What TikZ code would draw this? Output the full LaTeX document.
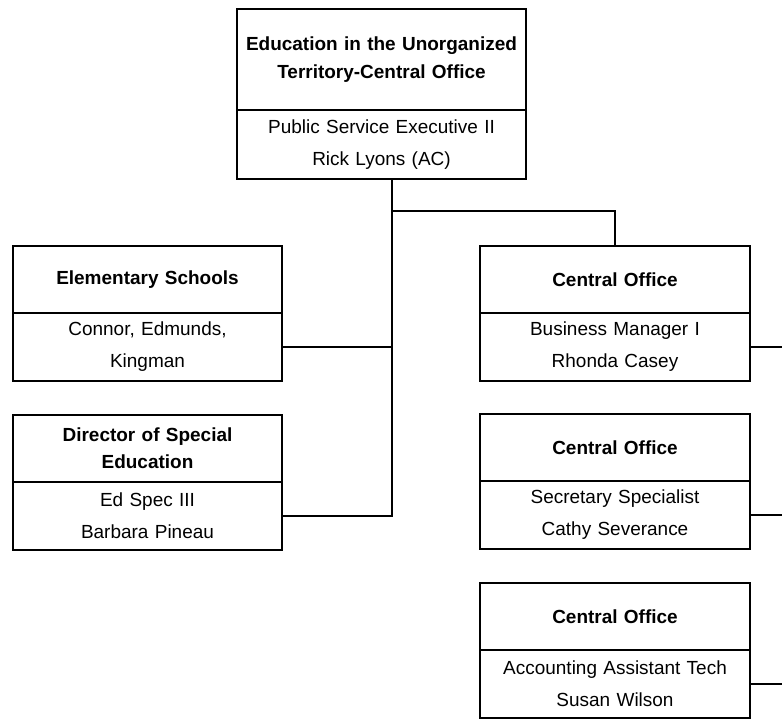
\documentclass[tikz,border=0pt]{standalone}
\usepackage{fontspec}
\setmainfont{Liberation Sans}
\usetikzlibrary{positioning}

\begin{document}
\begin{tikzpicture}[line width=1.1pt,node distance=0pt,
head/.style={draw, rectangle, inner sep=0pt, outer sep=0pt, align=center, text width=5.4cm, minimum height=1.34cm,
font=\bfseries\fontsize{10.8}{15.6}\selectfont},
body/.style={draw, rectangle, inner sep=0pt, outer sep=0pt, align=center, text width=5.4cm, minimum height=1.36cm,
font=\fontsize{10.8}{18.2}\selectfont}]

    \useasboundingbox (0,0) rectangle (15.64,-14.4);

    \node[head, text width=5.78cm, minimum height=2.02cm] (T) at (7.63,-1.19) {Education in the Unorganized\\Territory-Central Office};
    \node[body, text width=5.78cm, minimum height=1.38cm] (Tb) [below =of T] {Public Service Executive II\\Rick Lyons (AC)};

    \node[head, text width=5.38cm] (E) at (2.95,-5.59) {Elementary Schools};
    \node[body, text width=5.38cm] (Eb) [below =of E] {Connor, Edmunds,\\Kingman};
    \node[head, text width=5.38cm] (D) at (2.95,-8.97) {Director of Special\\Education};
    \node[body, text width=5.38cm] (Db) [below =of D] {Ed Spec III\\Barbara Pineau};

    \node[head] (C1) at (12.3,-5.59) {Central Office};
    \node[body] (C1b) [below =of C1] {Business Manager I\\Rhonda Casey};
    \node[head] (C2) at (12.3,-8.95) {Central Office};
    \node[body] (C2b) [below =of C2] {Secretary Specialist\\Cathy Severance};
    \node[head] (C3) at (12.3,-12.33) {Central Office};
    \node[body] (C3b) [below =of C3] {Accounting Assistant Tech\\Susan Wilson};

    \coordinate (trunk) at ([xshift=0.21cm]Tb.south);
    \coordinate (fork) at ([yshift=-0.64cm]trunk);
    \coordinate (edge) at (15.64,0);

    \draw (trunk) |- (Db.east);
    \draw (Eb.east) -- (Eb.east -| trunk);
    \draw (fork) -| (C1.north);
    \foreach \n in {C1b,C2b,C3b}
        \draw (\n.east) -- (\n.east -| edge);

\end{tikzpicture}
\end{document}
